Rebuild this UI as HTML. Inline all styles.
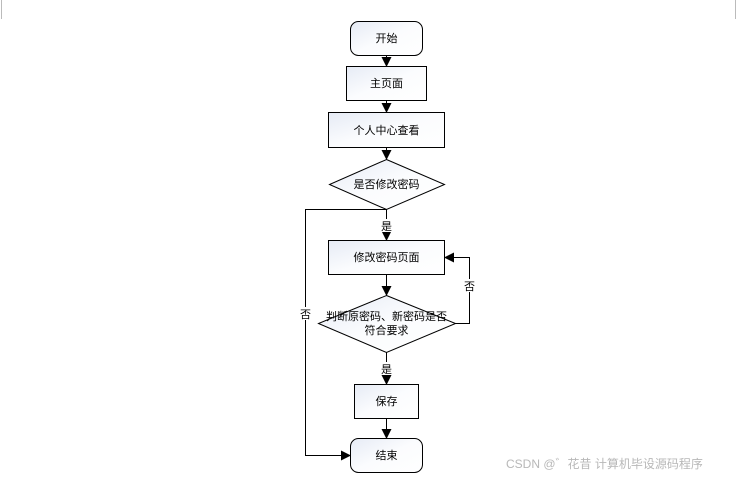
<!DOCTYPE html>
<html><head><meta charset="utf-8"><style>
html,body{margin:0;padding:0;background:#fff;}
svg{display:block;}
text{font-family:"Liberation Sans","Noto Sans CJK SC",sans-serif;font-size:11px;fill:#000;}
</style></head><body>
<svg width="737" height="477" viewBox="0 0 737 477">
<defs>
<linearGradient id="g" x1="0" y1="0" x2="1" y2="1">
<stop offset="0" stop-color="#e6ebf5"/><stop offset="0.5" stop-color="#fbfcfe"/><stop offset="1" stop-color="#ffffff"/>
</linearGradient>
<marker id="a" markerWidth="10" markerHeight="10" refX="9" refY="5" orient="auto" markerUnits="userSpaceOnUse">
<path d="M0,0 L10,5 L0,10 Z" fill="#000"/></marker>
</defs>
<line x1="1.5" y1="0" x2="1.5" y2="19" stroke="#bbb"/>
<line x1="735.5" y1="0" x2="735.5" y2="19" stroke="#bbb"/>
<g stroke="#000" stroke-width="1" fill="url(#g)">
<rect x="350.5" y="21.5" width="72" height="34" rx="8"/>
<rect x="346.5" y="66.5" width="80" height="34"/>
<rect x="328.5" y="112.5" width="116" height="35"/>
<polygon points="386.5,159.5 444.5,184.5 386.5,209.5 329.5,184.5"/>
<rect x="328.5" y="240.5" width="116" height="34"/>
<polygon points="386.5,295.5 455.5,323.5 386.5,352.5 318.5,323.5"/>
<rect x="354.5" y="384.5" width="64" height="34"/>
<rect x="350.5" y="438.5" width="72" height="34" rx="8"/>
</g>
<g stroke="#000" stroke-width="1" fill="none">
<line x1="386.5" y1="55.5" x2="386.5" y2="66" marker-end="url(#a)"/>
<line x1="386.5" y1="100.5" x2="386.5" y2="112" marker-end="url(#a)"/>
<line x1="386.5" y1="147.5" x2="386.5" y2="159" marker-end="url(#a)"/>
<line x1="386.5" y1="209.5" x2="386.5" y2="240" marker-end="url(#a)"/>
<polyline points="386.5,209.5 305.5,209.5 305.5,455.5 350,455.5" marker-end="url(#a)"/>
<line x1="386.5" y1="274.5" x2="386.5" y2="295" marker-end="url(#a)"/>
<polyline points="455.5,323.5 469.5,323.5 469.5,257.5 445,257.5" marker-end="url(#a)"/>
<line x1="386.5" y1="352.5" x2="386.5" y2="384" marker-end="url(#a)"/>
<line x1="386.5" y1="418.5" x2="386.5" y2="438" marker-end="url(#a)"/>
</g>
<g text-anchor="middle">
<text x="386.5" y="42">开始</text>
<text x="386.5" y="87">主页面</text>
<text x="386.5" y="134">个人中心查看</text>
<text x="386.5" y="188">是否修改密码</text>
<text x="386.5" y="261">修改密码页面</text>
<text x="386.5" y="320">判断原密码、新密码是否</text>
<text x="386.5" y="334">符合要求</text>
<text x="386.5" y="405">保存</text>
<text x="386.5" y="459">结束</text>
<rect x="379" y="219" width="15" height="13" fill="#fff"/>
<text x="386.5" y="230">是</text>
<rect x="379" y="362" width="15" height="13" fill="#fff"/>
<text x="386.5" y="373">是</text>
<rect x="462" y="279" width="15" height="13" fill="#fff"/>
<text x="469.5" y="290">否</text>
<rect x="298" y="307" width="15" height="13" fill="#fff"/>
<text x="305.5" y="318">否</text>
</g>
<text x="506" y="468" style="font-size:12px;fill:#b8b8b8">CSDN @゛花昔  计算机毕设源码程序</text>
</svg>
</body></html>
